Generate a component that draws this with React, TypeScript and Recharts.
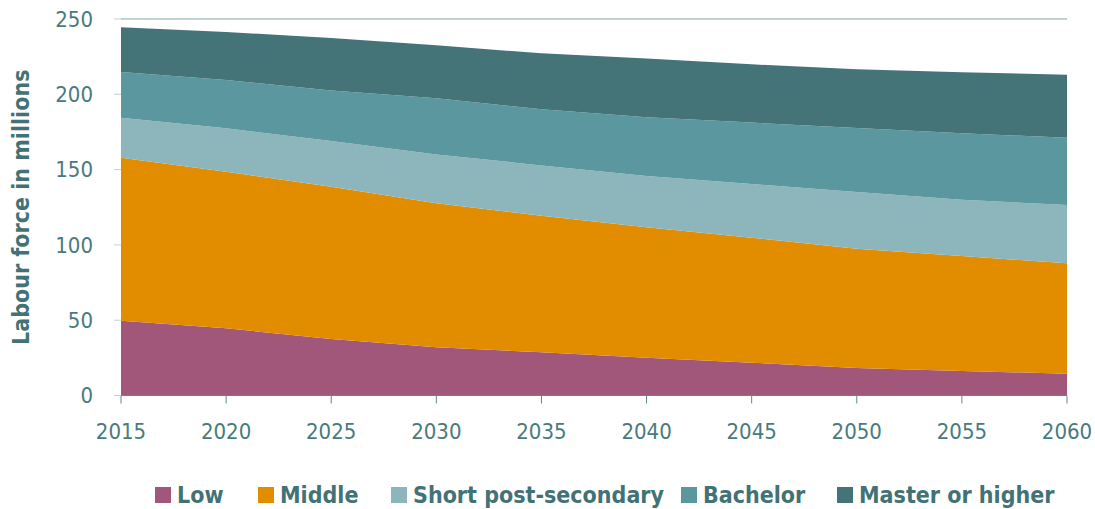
import { ComposedChart, Area, XAxis, YAxis, ReferenceLine, Legend } from 'recharts';

const years = [2015, 2020, 2025, 2030, 2035, 2040, 2045, 2050, 2055, 2060];
const low = [49.7, 44.6, 37.5, 32.0, 28.7, 25.1, 21.8, 18.3, 16.3, 14.5];
const middle = [108.2, 104.0, 101.1, 95.6, 90.7, 86.6, 83.0, 79.2, 76.3, 73.3];
const shortPost = [26.6, 28.8, 30.4, 32.5, 33.4, 34.1, 35.6, 37.6, 37.4, 38.7];
const bachelor = [30.3, 32.1, 33.6, 37.2, 37.2, 38.9, 40.8, 42.5, 44.1, 44.7];
const master = [29.7, 31.9, 34.8, 35.2, 37.2, 39.0, 38.7, 39.0, 40.5, 41.8];
const yTicks = [0, 50, 100, 150, 200, 250];

const series = [
  { key: 'low', name: 'Low', color: '#a0577a', left: 155 },
  { key: 'middle', name: 'Middle', color: '#e28c00', left: 258 },
  { key: 'shortPost', name: 'Short post-secondary', color: '#8db5bc', left: 391 },
  { key: 'bachelor', name: 'Bachelor', color: '#5b979f', left: 681 },
  { key: 'master', name: 'Master or higher', color: '#447478', left: 837 },
];

const data = years.map((year, i) => ({
  year,
  low: low[i],
  middle: middle[i],
  shortPost: shortPost[i],
  bachelor: bachelor[i],
  master: master[i],
}));

const FONT = '"DejaVu Sans Condensed", "DejaVu Sans", sans-serif';
const TEXT = '#487a7e';

function LegendContent() {
  return (
    <div style={{ position: 'relative', height: 26, fontFamily: FONT, fontStretch: 'condensed', fontSize: 23, fontWeight: 700, color: '#427276' }}>
      {series.map((s) => (
        <div key={s.key} style={{ position: 'absolute', left: s.left, top: 0, display: 'flex', alignItems: 'center', whiteSpace: 'nowrap' }}>
          <span style={{ width: 16, height: 16, background: s.color, marginRight: 6, display: 'inline-block' }} />
          <span>{s.name}</span>
        </div>
      ))}
    </div>
  );
}

export default function App() {
  return (
    <div style={{ position: 'absolute', left: 0, top: 0, width: 1095, height: 509, background: '#fff' }}>
      <ComposedChart width={1095} height={509} data={data} margin={{ top: 19, right: 28, bottom: 23.5, left: 0 }}>
        <XAxis
          dataKey="year"
          type="number"
          domain={[2015, 2060]}
          ticks={years}
          height={50}
          stroke="#5b8a8e"
          tickSize={8}
          tickMargin={20}
          tick={{ fill: TEXT, fontSize: 22, fontFamily: FONT, style: { fontStretch: 'condensed' } }}
        />
        <YAxis
          width={121}
          domain={[0, 250]}
          ticks={yTicks}
          axisLine={false}
          tickSize={7}
          tickMargin={21}
          tickLine={{ stroke: '#c0d3d3' }}
          tick={{ fill: TEXT, fontSize: 22, fontFamily: FONT, style: { fontStretch: 'condensed' } }}
          label={{
            content: (props: any) => {
              const vb = props.viewBox || { x: 0, y: 19, height: 376 };
              const cx = vb.x + 21;
              const cy = vb.y + vb.height / 2;
              return (
                <text
                  x={cx}
                  y={cy}
                  transform={`rotate(-90 ${cx} ${cy})`}
                  textAnchor="middle"
                  dominantBaseline="central"
                  fill="#427276"
                  fontSize={23}
                  fontWeight={700}
                  fontFamily={FONT}
                  style={{ fontStretch: 'condensed' }}
                >
                  Labour force in millions
                </text>
              );
            },
          }}
        />
        {series.map((s) => (
          <Area
            key={s.key}
            type="linear"
            dataKey={s.key}
            name={s.name}
            stackId="1"
            stroke="none"
            fill={s.color}
            fillOpacity={1}
            isAnimationActive={false}
          />
        ))}
        <ReferenceLine y={250} stroke="#c0d3d3" strokeWidth={2} />
        <Legend verticalAlign="bottom" height={40} content={<LegendContent />} wrapperStyle={{ top: 482, left: 0, width: 1095 }} />
      </ComposedChart>
    </div>
  );
}
